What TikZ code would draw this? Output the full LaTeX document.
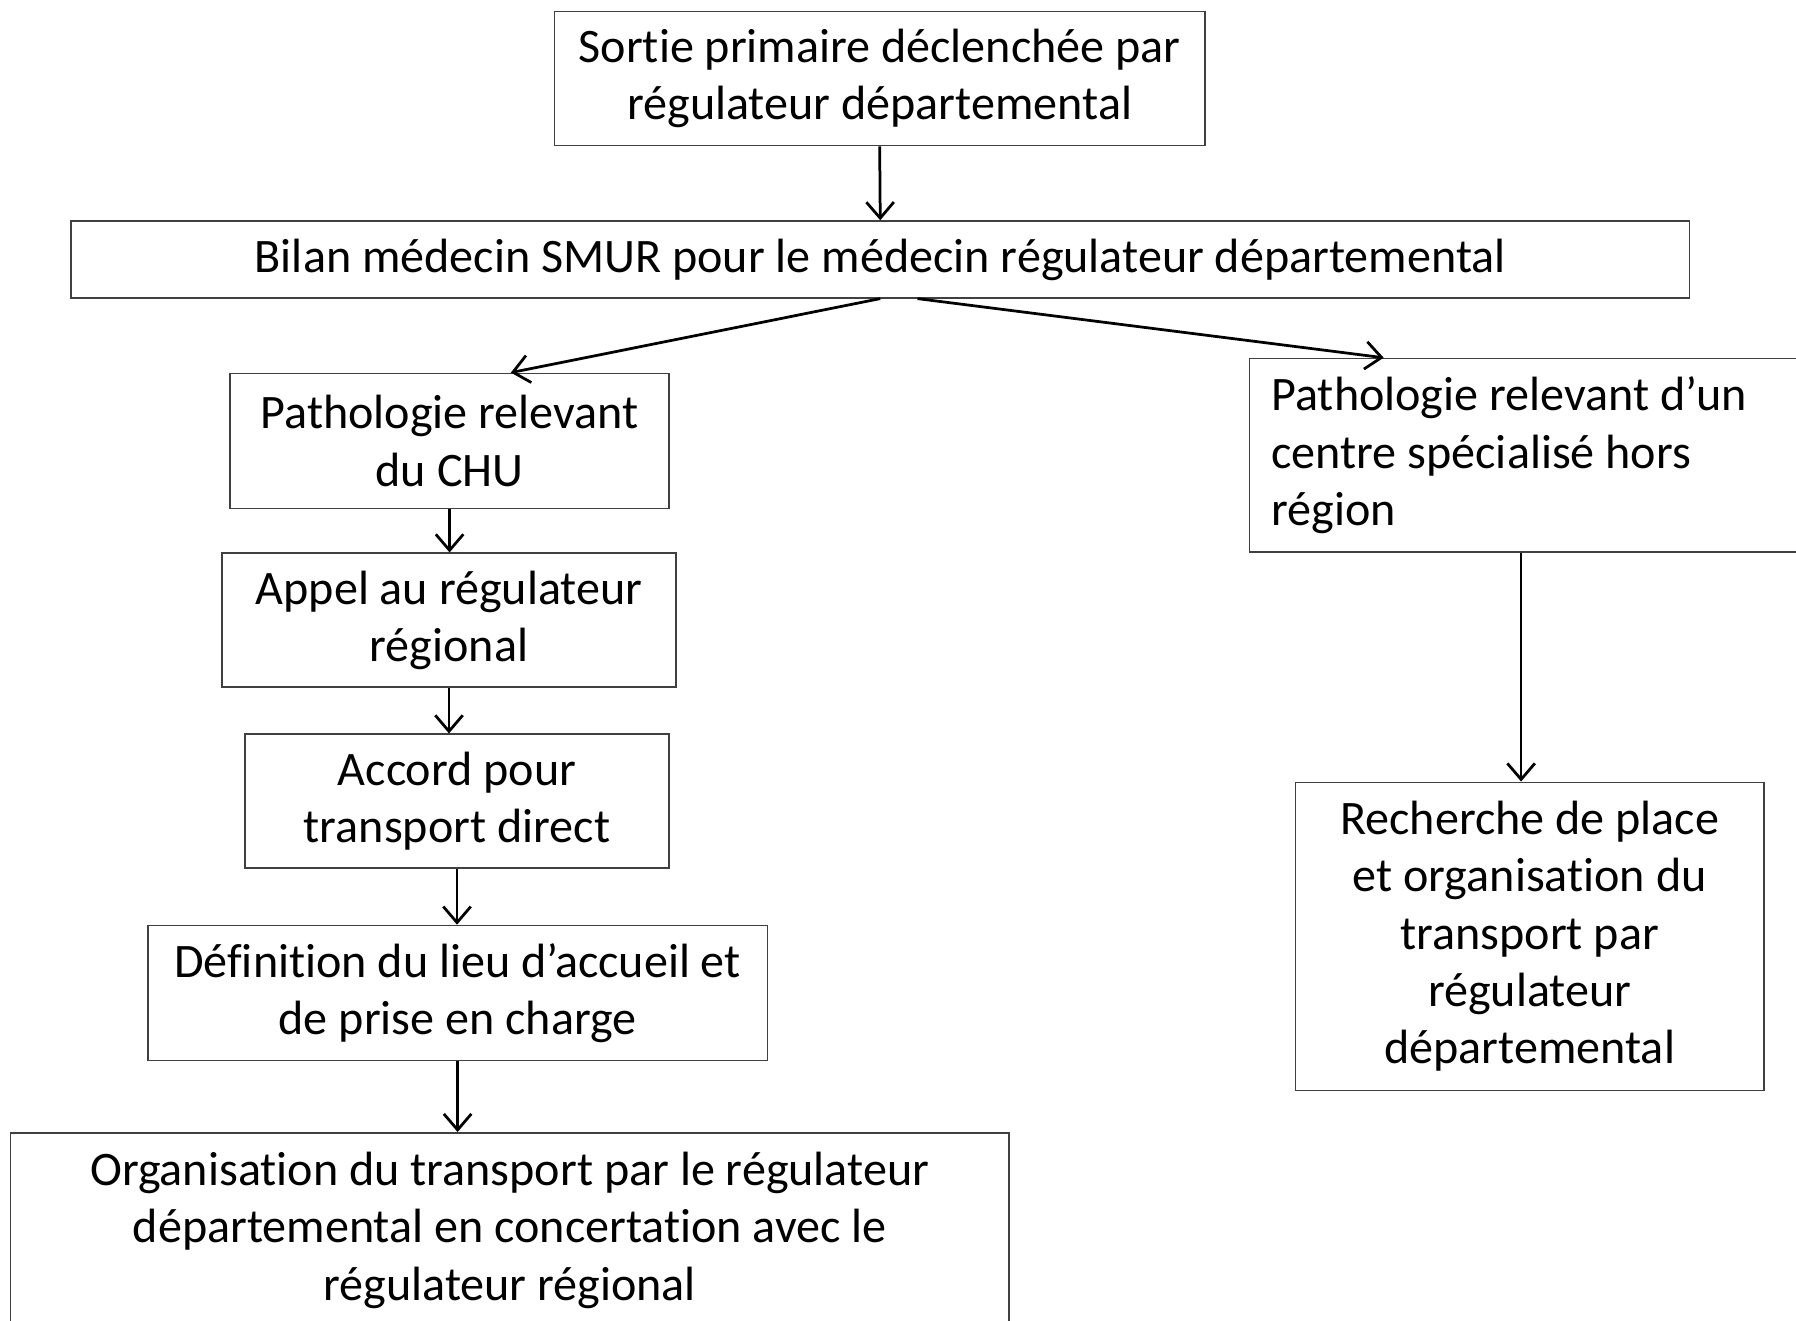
\documentclass[tikz,border=0pt]{standalone}
\usepackage{fontspec}
\setmainfont{Carlito}[Ligatures=NoCommon]
\usetikzlibrary{arrows.meta}
\begin{document}
\begin{tikzpicture}[x=0.5pt,y=-0.5pt,
  box/.style={draw=black!75, line width=0.7pt, inner sep=0pt, align=center,
    font=\fontsize{21}{25}\selectfont},
  arr/.style={-{Straight Barb[length=7pt,width=12pt]}, line width=1.2pt}]
\useasboundingbox (0,0) rectangle (1568,1153);
\node[box, minimum width=284pt, minimum height=58.5pt] (b1) at (768,68.5)
  {Sortie primaire déclenchée par\\régulateur départemental};
\node[box, minimum width=706.5pt, minimum height=33.5pt] (b2) at (768.5,226.5)
  {Bilan médecin SMUR pour le médecin régulateur départemental};
\node[box, minimum width=191.5pt, minimum height=59pt] (b3) at (392.5,385)
  {Pathologie relevant\\du CHU};
\node[box, minimum width=198pt, minimum height=58.5pt] (b4) at (392,541.5)
  {Appel au régulateur\\régional};
\node[box, minimum width=185pt, minimum height=58.5pt] (b5) at (399,699.5)
  {Accord pour\\transport direct};
\node[box, minimum width=270.5pt, minimum height=59pt] (b6) at (399.5,867)
  {Définition du lieu d’accueil et\\de prise en charge};
\node[box, minimum width=436pt, minimum height=85pt] (b7) at (445,1074)
  {Organisation du transport par le régulateur\\départemental en concertation avec le\\régulateur régional};
\node[box, align=flush left, inner xsep=9.5pt, text width=225.5pt, minimum height=84.5pt] (b8) at (1335.5,397.5)
  {Pathologie relevant d’un\\centre spécialisé hors\\région};
\node[box, minimum width=204.5pt, minimum height=134.5pt] (b9) at (1335.5,817.5)
  {Recherche de place\\et organisation du\\transport par\\régulateur\\départemental};
\draw[arr] (b1.south) -- (b2.north);
\draw[arr] (b2.south) -- ([xshift=26.75pt]b3.north);
\draw[arr] ([xshift=16.25pt]b2.south) -- ([xshift=-63.75pt]b8.north);
\draw[arr] (b3.south) -- (b3.south |- b4.north);
\draw[arr] (b4.south) -- (b4.south |- b5.north);
\draw[arr] (b5.south) -- (b5.south |- b6.north);
\draw[arr] (b6.south) -- (b6.south |- b7.north);
\draw[arr] ([xshift=-3.75pt]b8.south) -- ([xshift=-3.75pt]b8.south |- b9.north);
\end{tikzpicture}
\end{document}
